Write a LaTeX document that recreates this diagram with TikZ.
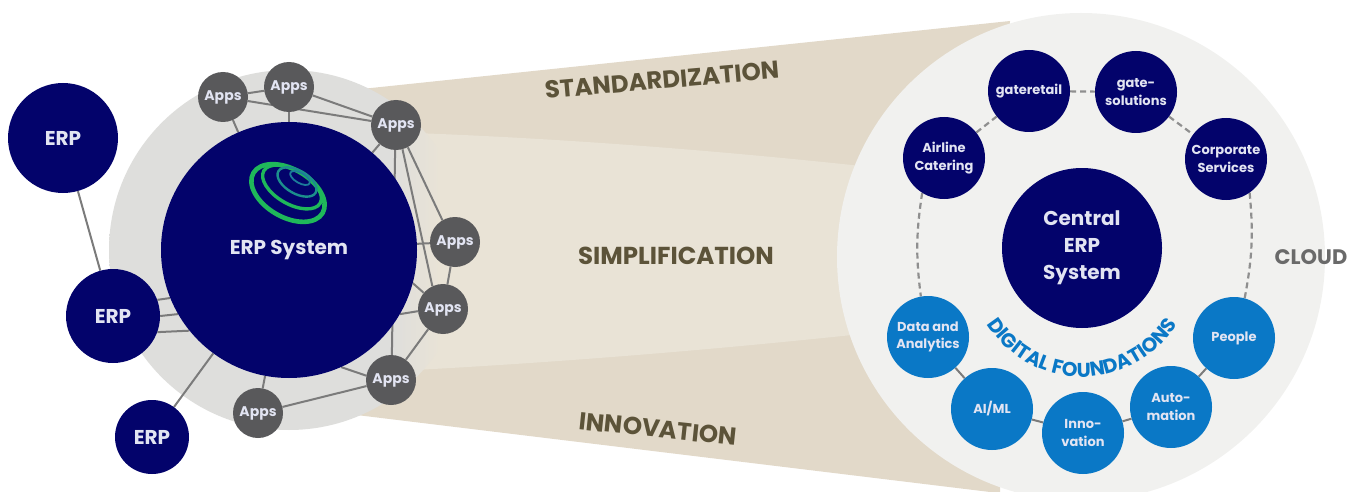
\documentclass[tikz,border=0pt]{standalone}
\usepackage{fontspec}
\setmainfont{Poppins}
\usetikzlibrary{decorations.text}
\definecolor{navy}{HTML}{03036B}
\definecolor{skyb}{HTML}{0A78C6}
\definecolor{appg}{HTML}{59595B}
\definecolor{linkg}{HTML}{7B7B7B}
\definecolor{tanD}{HTML}{E2D9C9}
\definecolor{tanL}{HTML}{E9E3D6}
\definecolor{greyB}{HTML}{DEDEDC}
\definecolor{cloudF}{HTML}{F1F1EF}
\definecolor{brownT}{HTML}{5C5339}
\definecolor{cloudT}{HTML}{6A6A6A}
\definecolor{paleT}{HTML}{E2E4F2}
\definecolor{ringG}{HTML}{1FB85A}
\definecolor{ringT}{HTML}{1C8F8C}
\definecolor{ringB}{HTML}{1C7C9A}
\pgfdeclarelayer{backdrop}
\pgfdeclarelayer{links}
\pgfsetlayers{backdrop,links,main}
\pgfdeclarehorizontalshading{greyfade}{100bp}{color(0bp)=(greyB); color(64bp)=(greyB); color(71bp)=(tanL); color(100bp)=(tanL)}
\tikzset{
  ball/.style={circle,inner sep=0pt,align=center,text=paleT,font=\bfseries},
  erpn/.style={ball,fill=navy,font=\bfseries\fontsize{20}{24}\selectfont},
  appn/.style={ball,fill=appg,minimum size=50pt,font=\bfseries\fontsize{14}{16}\selectfont},
  unit/.style={ball,fill=navy,minimum size=82pt,font=\bfseries\fontsize{13}{17.5}\selectfont},
  found/.style={ball,fill=skyb,minimum size=82pt,font=\bfseries\fontsize{13}{17.5}\selectfont},
  link/.style={draw=linkg,line width=2pt},
  dashlink/.style={draw=linkg!85,line width=2.2pt,dash pattern=on 6pt off 4pt},
  band/.style={font=\bfseries\fontsize{24.5}{28}\selectfont,text=brownT}
}
\begin{document}
\begin{tikzpicture}[x=1pt,y=-1pt]
\useasboundingbox (0,0) rectangle (1357,492);
\begin{pgfonlayer}{backdrop}
  \fill[tanD] (352,90) -- (1010,21) -- (1000,492) -- (990,492) -- (340,413) -- cycle;
  \fill[tanL] (415,133) .. controls (600,140) and (760,155) .. (880,168) -- (880,332) .. controls (760,345) and (600,360) .. (415,370) -- cycle;
  \shade[shading=greyfade] (289,250) circle[radius=180pt];
  \fill[cloudF] (1081,257) circle[radius=244pt];
\end{pgfonlayer}

% left cluster
\node[erpn,minimum size=110pt] (erpa) at (63,138) {ERP};
\node[erpn,minimum size=94pt] (erpb) at (113,316) {ERP};
\node[erpn,minimum size=74pt] (erpc) at (152,437) {ERP};
\node[ball,fill=navy,minimum size=256pt,font=\bfseries\fontsize{20}{24}\selectfont] (sys) at (289,250) {ERP System};
\node[appn] (ap1) at (223,97) {Apps};
\node[appn] (ap2) at (289,87) {Apps};
\node[appn] (ap3) at (396,125) {Apps};
\node[appn] (ap4) at (455,242) {Apps};
\node[appn] (ap5) at (443,309) {Apps};
\node[appn] (ap6) at (391,380) {Apps};
\node[appn] (ap7) at (258,413) {Apps};

% logo
\draw[ringG,line width=4.6pt] (288,193) ellipse[x radius=40pt,y radius=24pt,rotate=-30];
\draw[ringG,line width=3.4pt] (292,187) ellipse[x radius=32.5pt,y radius=17pt,rotate=-30];
\draw[ringT,line width=2.4pt] (297,182) ellipse[x radius=21.5pt,y radius=11.5pt,rotate=-30];
\draw[ringB,line width=1.8pt] (300,178) ellipse[x radius=11pt,y radius=5pt,rotate=-30];

% right cluster
\node[ball,fill=navy,minimum size=160pt,font=\bfseries\fontsize{20}{27}\selectfont] (central) at (1082,248) {Central\\ERP\\System};
\node[unit] (gret) at (1029,91) {gateretail};
\node[unit] (gsol) at (1136,92) {gate-\\solutions};
\node[unit] (corp) at (1226,159) {Corporate\\Services};
\node[unit] (airl) at (944,158) {Airline\\Catering};
\node[found] (data) at (928,337) {Data and\\Analytics};
\node[found] (aiml) at (992,409) {AI/ML};
\node[found] (inno) at (1083,433) {Inno-\\vation};
\node[found] (auto) at (1171,407) {Auto-\\mation};
\node[found] (peop) at (1234,338) {People};

% texts on the band
\node[band,rotate=5] (tstd) at (662,80) {STANDARDIZATION};
\node[band] (tsim) at (676,256) {SIMPLIFICATION};
\node[band,rotate=-6] (tinn) at (658,429) {INNOVATION};
\node[font=\bfseries\fontsize{21}{24}\selectfont,text=cloudT] (tcld) at (1311,257) {CLOUD};

\coordinate (fa) at (976.8,303.3);
\path[decorate,decoration={text along path,text align=center,
   text={|\fontsize{20}{22}\selectfont\bfseries\color{skyb}|DIGITAL FOUNDATIONS}}]
   (fa) arc[start angle=200,end angle=340,radius=112pt];

\begin{pgfonlayer}{links}
  \draw[link] (erpa) -- (erpb);
  \draw[link] (erpb.20) -- (sys.202);
  \draw[link] (erpb.0) -- (sys.210);
  \draw[link] (erpb.340) -- (sys.219);
  \draw[link] (erpc) -- (sys);
  \draw[link] (ap1) -- (sys);
  \draw[link] (ap1) -- (ap2);
  \draw[link] (ap1) -- (ap3);
  \draw[link] (ap2) -- (ap3);
  \draw[link] (ap2) -- (sys);
  \draw[link] (ap3) -- (sys);
  \draw[link] (ap3.268) -- (ap6.88);
  \draw[link] (ap3.285) -- (ap5.115);
  \draw[link] (ap3.298) -- (ap4.120);
  \draw[link] (ap4) -- (sys);
  \draw[link] (ap4) -- (ap5);
  \draw[link] (ap5.185) -- (sys.330);
  \draw[link] (ap5.140) -- (sys.345);
  \draw[link] (ap5) -- (ap6);
  \draw[link] (ap6.170) -- (sys.294);
  \draw[link] (ap6) -- (ap7);
  \draw[link] (ap7) -- (sys);
  \draw[link] (data) -- (aiml);
  \draw[link] (aiml) -- (inno);
  \draw[link] (inno) -- (auto);
  \draw[link] (auto) -- (peop);
  \draw[dashlink] (airl) -- (gret);
  \draw[dashlink] (gret) -- (gsol);
  \draw[dashlink] (gsol) -- (corp);
  \draw[dashlink] (airl.238) to[bend right=8] (data.100);
  \draw[dashlink] (corp.305) to[bend left=8] (peop.75);
\end{pgfonlayer}
\end{tikzpicture}
\end{document}
